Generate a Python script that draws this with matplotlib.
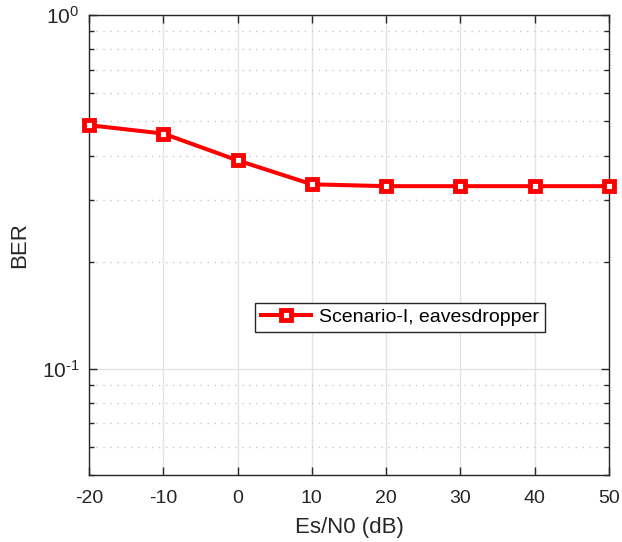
import numpy as np
import matplotlib.pyplot as plt
from matplotlib.ticker import LogLocator, NullFormatter, FuncFormatter

plt.rcParams['font.family'] = ['Liberation Sans', 'DejaVu Sans']
plt.rcParams['axes.unicode_minus'] = False
plt.rcParams['mathtext.fontset'] = 'custom'
plt.rcParams['mathtext.rm'] = 'Liberation Sans'
plt.rcParams['mathtext.it'] = 'Liberation Sans'
plt.rcParams['mathtext.default'] = 'regular'

# data
snr_db = [-20, -10, 0, 10, 20, 30, 40, 50]
ber = [0.488, 0.462, 0.388, 0.332, 0.328, 0.328, 0.328, 0.328]
xticks = [-20, -10, 0, 10, 20, 30, 40, 50]

axis_col = '#262626'

fig = plt.figure(figsize=(6.22, 5.42), dpi=100)
ax = fig.add_axes([89/622, 1-475/542, (609-89)/622, (475-15)/542])

ax.semilogy(snr_db, ber, color='#FF0000', linewidth=2.9, marker='s',
            markersize=6.5, markerfacecolor='white', markeredgecolor='#FF0000',
            markeredgewidth=3.5, label='Scenario-I, eavesdropper', zorder=3,
            clip_on=False)

ax.set_xlim(-20, 50)
ax.set_ylim(0.05, 1)
ax.set_xticks(xticks)
ax.yaxis.set_major_locator(LogLocator(base=10, numticks=10))
ax.yaxis.set_major_formatter(FuncFormatter(lambda v, p: r'$10^{\text{%d}}$' % round(np.log10(v))))
ax.yaxis.set_minor_locator(LogLocator(base=10, subs=np.arange(2, 10), numticks=10))
ax.yaxis.set_minor_formatter(NullFormatter())

ax.grid(True, which='major', color='#E3E3E3', linewidth=1, linestyle='-')
ax.grid(True, which='minor', axis='y', color='#C8C8C8', linewidth=1, linestyle=(0, (1, 4)))
ax.set_axisbelow(True)

ax.tick_params(which='both', direction='in', top=True, right=True,
               colors=axis_col, labelcolor=axis_col)
ax.tick_params(axis='x', labelsize=14, pad=11)
ax.tick_params(axis='y', labelsize=15, pad=7)
ax.tick_params(which='major', length=6, width=1)
ax.tick_params(which='minor', length=3.5, width=1)
ax.tick_params(axis='x', which='minor', bottom=False, top=False)
for s in ax.spines.values():
    s.set_color(axis_col)
    s.set_linewidth(1)

ax.set_xlabel('Es/N0 (dB)', fontsize=16, color=axis_col, labelpad=7)
ax.set_ylabel('BER', fontsize=16, color=axis_col, labelpad=8)

leg = ax.legend(loc='center', bbox_to_anchor=(0.598, 0.343), fontsize=14,
                fancybox=False, framealpha=1, edgecolor='#262626',
                handlelength=2.6, borderpad=0.3, handletextpad=0.4)
leg.get_frame().set_linewidth(1)

fig.savefig('out.png', dpi=100)
